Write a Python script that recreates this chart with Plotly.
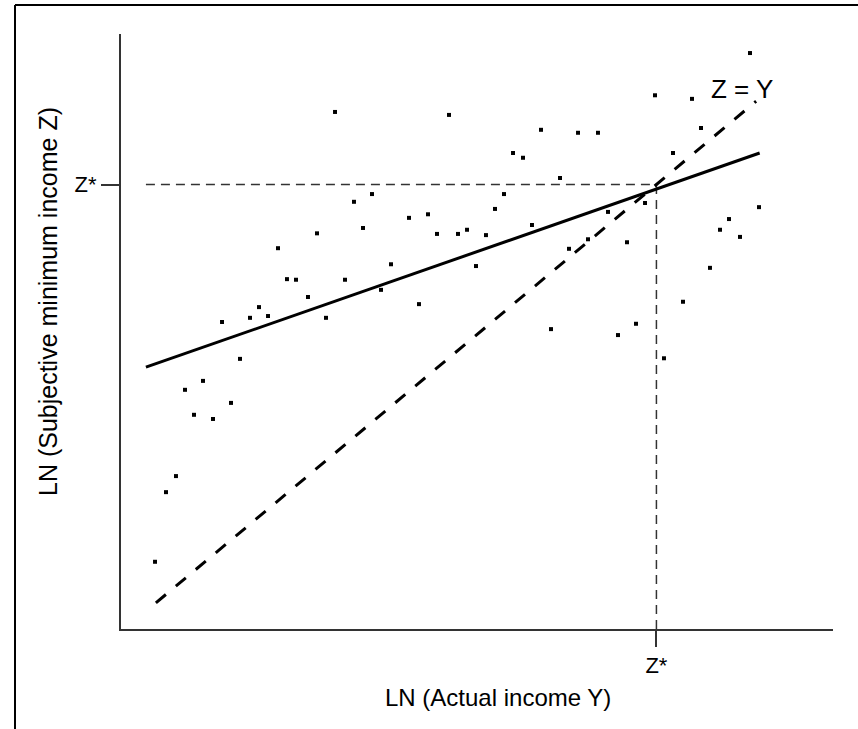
import plotly.graph_objects as go

# ---- data (arbitrary log-income units) ----
scatter_x = [3.006, 3.272, 2.753, 2.205, 4.607, 5.899, 6.419, 6.699, 5.506, 5.646,
             6.166, 3.525, 5.379, 3.399, 4.045, 4.312, 4.438, 4.733, 4.860, 5.126,
             5.253, 5.772, 6.559, 6.292, 8.834, 7.500, 8.020, 8.146, 7.753, 6.840,
             7.360, 7.107, 8.961, 8.539, 8.413, 8.694, 2.331, 2.458, 3.146, 2.626,
             1.938, 1.812, 2.065, 1.419, 2.879, 1.671, 1.152, 0.899, 1.545, 1.025,
             1.292, 3.792, 4.986, 3.652, 4.185, 6.039, 8.272, 7.893, 7.233, 6.980,
             7.626, 0.772, 0.632, 0.478]
scatter_y = [8.74, 7.23, 6.70, 6.45, 8.69, 8.44, 8.39, 8.39, 8.05, 7.97,
             7.63, 7.36, 7.36, 6.79, 6.96, 7.02, 6.69, 6.69, 6.76, 6.67,
             7.11, 6.84, 6.60, 6.44, 9.73, 9.02, 8.96, 8.47, 8.05, 7.06,
             7.21, 6.55, 7.14, 6.94, 6.76, 6.64, 5.93, 5.92, 5.92, 5.63,
             5.46, 5.28, 5.31, 5.21, 5.28, 4.59, 4.22, 4.07, 3.85, 3.65,
             3.58, 6.18, 6.15, 5.75, 5.51, 5.09, 6.12, 5.55, 5.18, 4.99,
             4.60, 2.62, 2.35, 1.18]

fit_x = [0.35, 8.97]
fit_y = [4.45, 8.05]

identity_x = [0.49, 8.92]
identity_y = [0.49, 8.92]

zstar = 7.52
guide_start_x = 0.35
x_range = [0.0, 10.0]
y_range = [0.05, 10.05]

x_title = "LN (Actual income Y)"
y_title = "LN (Subjective minimum income Z)"
line_label = "Z = Y"
tick_label = "Z*"

FONT = "Liberation Sans, Arial, sans-serif"

fig = go.Figure()

# guide lines at z*
fig.add_trace(go.Scatter(x=[guide_start_x, zstar], y=[zstar, zstar], mode="lines",
                         line=dict(color="#333333", width=1.5, dash="9px,6px"),
                         hoverinfo="skip", showlegend=False))
fig.add_trace(go.Scatter(x=[zstar, zstar], y=[y_range[0], zstar], mode="lines",
                         line=dict(color="#333333", width=1.5, dash="9px,6px"),
                         hoverinfo="skip", showlegend=False))

# Z = Y line
fig.add_trace(go.Scatter(x=identity_x, y=identity_y, mode="lines",
                         line=dict(color="black", width=3, dash="13px,13px"),
                         showlegend=False))
# fitted line
fig.add_trace(go.Scatter(x=fit_x, y=fit_y, mode="lines",
                         line=dict(color="black", width=3),
                         showlegend=False))
# scatter
fig.add_trace(go.Scatter(x=scatter_x, y=scatter_y, mode="markers",
                         marker=dict(symbol="square", size=4, color="black"),
                         showlegend=False))

fig.update_xaxes(range=x_range, showgrid=False, zeroline=False, showline=True,
                 linecolor="#333333", linewidth=2, ticks="outside", ticklen=16,
                 tickwidth=2, tickcolor="#333333", tickvals=[zstar], automargin=False,
                 ticktext=[tick_label], tickfont=dict(family=FONT, size=22, color="black"))
fig.update_yaxes(range=y_range, showgrid=False, zeroline=False, showline=True,
                 linecolor="#333333", linewidth=2, ticks="outside", ticklen=18,
                 tickwidth=2, tickcolor="#333333", tickvals=[zstar], automargin=False,
                 ticktext=[tick_label], tickfont=dict(family=FONT, size=22, color="black"))

fig.add_annotation(text=x_title, xref="paper", yref="paper", x=(498 - 121) / 712,
                   y=-(697 - 629) / 595, showarrow=False, xanchor="center", yanchor="middle",
                   font=dict(family=FONT, size=24, color="black"))
fig.add_annotation(text=y_title, xref="paper", yref="paper", x=(48 - 121) / 712,
                   y=(629 - 302) / 595, showarrow=False, xanchor="center", yanchor="middle",
                   textangle=-90, font=dict(family=FONT, size=25, color="black"))
fig.add_annotation(text=line_label, xref="paper", yref="paper", x=(742 - 121) / 712,
                   y=(629 - 89) / 595, showarrow=False, xanchor="center", yanchor="middle",
                   font=dict(family=FONT, size=26, color="black"))

# outer frame (top and left edges)
fig.add_shape(type="line", xref="paper", yref="paper", x0=(15 - 121) / 712, x1=(870 - 121) / 712,
              y0=(629 - 5) / 595, y1=(629 - 5) / 595, line=dict(color="black", width=2))
fig.add_shape(type="line", xref="paper", yref="paper", x0=(15 - 121) / 712, x1=(15 - 121) / 712,
              y0=(629 - 5) / 595, y1=(629 - 740) / 595, line=dict(color="black", width=2))

fig.update_layout(width=858, height=729, autosize=False,
                  margin=dict(l=121, r=25, t=34, b=100),
                  paper_bgcolor="white", plot_bgcolor="white",
                  font=dict(family=FONT, color="black"), showlegend=False)

fig.write_html("out.html", config={"displayModeBar": False},
               post_script="document.body.style.margin='0';document.body.style.overflow='hidden';")
